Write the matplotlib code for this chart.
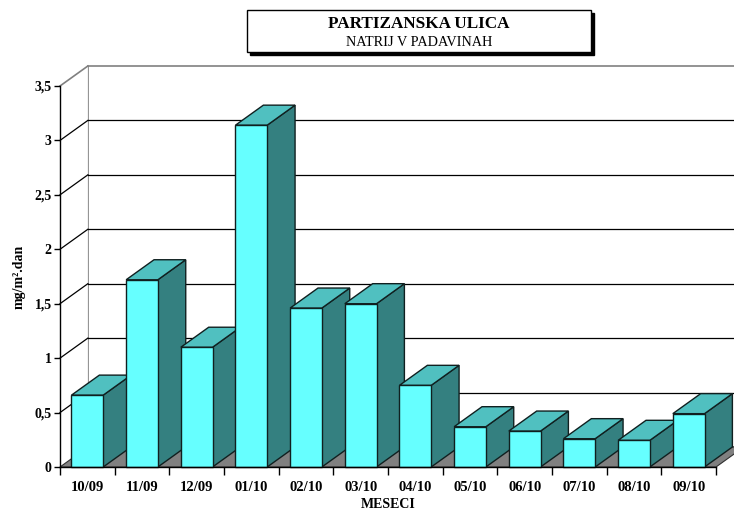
import matplotlib.pyplot as plt
from matplotlib.patches import Polygon, Rectangle

# --- DATA ---
months = ["10/09", "11/09", "12/09", "01/10", "02/10", "03/10",
          "04/10", "05/10", "06/10", "07/10", "08/10", "09/10"]
natrij = [0.66, 1.72, 1.10, 3.14, 1.46, 1.50, 0.75, 0.37, 0.33, 0.26, 0.245, 0.49]
y_ticks = [0, 0.5, 1, 1.5, 2, 2.5, 3, 3.5]
y_tick_labels = ["0", "0,5", "1", "1,5", "2", "2,5", "3", "3,5"]

# --- STYLE ---
FRONT = "#66FFFF"
TOP = "#50C0C0"
SIDE = "#348080"
EDGE = "#102020"
FLOOR = "#808080"
DX, DY = 0.51, 0.184   # depth offset (data units)
BAR_W = 0.58
SERIF = "Liberation Serif"

W, H = 734, 511
fig = plt.figure(figsize=(W / 100, H / 100), dpi=100)
ax = fig.add_axes([60 / W, 44 / H, 656 / W, 381 / H])
n = len(months)
ymax = y_ticks[-1]
ax.set_xlim(0, n)
ax.set_ylim(0, ymax)
ax.patch.set_visible(False)

# back wall
ax.add_patch(Polygon([(DX, DY), (n + DX, DY), (n + DX, ymax + DY), (DX, ymax + DY)],
                     closed=True, facecolor="white", edgecolor="#808080", lw=1.2,
                     clip_on=False, zorder=0))
# left wall
ax.add_patch(Polygon([(0, 0), (DX, DY), (DX, ymax + DY), (0, ymax)],
                     closed=True, facecolor="white", edgecolor="none",
                     clip_on=False, zorder=0))
for v in y_ticks[1:-1]:
    ax.plot([DX, n + DX], [v + DY, v + DY], color="black", lw=0.9, clip_on=False, zorder=1)
    ax.plot([0, DX], [v, v + DY], color="black", lw=0.9, clip_on=False, zorder=1)
ax.plot([0, DX], [ymax, ymax + DY], color="#808080", lw=1.2, clip_on=False, zorder=1)

# floor
ax.add_patch(Polygon([(0, 0), (n, 0), (n + DX, DY), (DX, DY)], closed=True,
                     facecolor=FLOOR, edgecolor="#303030", lw=0.8,
                     clip_on=False, zorder=1.5))

# bars
for i, v in enumerate(natrij):
    l = i + (1 - BAR_W) / 2
    r = l + BAR_W
    z = 3 + i * 0.01
    ax.add_patch(Polygon([(r, 0), (r + DX, DY), (r + DX, v + DY), (r, v)], closed=True,
                         facecolor=SIDE, edgecolor=EDGE, lw=1, clip_on=False, zorder=z))
    ax.add_patch(Polygon([(l, v), (r, v), (r + DX, v + DY), (l + DX, v + DY)], closed=True,
                         facecolor=TOP, edgecolor=EDGE, lw=1, clip_on=False, zorder=z))
    ax.add_patch(Polygon([(l, 0), (r, 0), (r, v), (l, v)], closed=True,
                         facecolor=FRONT, edgecolor=EDGE, lw=1, clip_on=False, zorder=z))

# axes
for s in ["top", "right"]:
    ax.spines[s].set_visible(False)
for s in ["left", "bottom"]:
    ax.spines[s].set_color("black")
    ax.spines[s].set_linewidth(1)
    ax.spines[s].set_zorder(5)
ax.set_yticks(y_ticks)
ax.set_yticklabels(y_tick_labels, fontfamily=SERIF, fontweight="bold", fontsize=10)
ax.tick_params(axis="y", direction="out", length=4, width=1, pad=2)
ax.set_xticks([i + 0.5 for i in range(n)])
ax.set_xticklabels(months, fontfamily=SERIF, fontweight="bold", fontsize=10.5)
ax.set_xticks(range(n + 1), minor=True)
ax.tick_params(axis="x", which="major", length=0, pad=10)
ax.tick_params(axis="x", which="minor", direction="out", length=6, width=1)

ax.set_xlabel("MESECI", fontfamily=SERIF, fontweight="bold", fontsize=10, labelpad=3)
ax.set_ylabel("mg/m².dan", fontfamily=SERIF, fontweight="bold", fontsize=10, labelpad=6)

# title box with shadow
bx, by, bw, bh = 247 / W, (H - 52) / H, 344 / W, 42 / H
fig.patches.append(Rectangle((bx + 3 / W, by - 3 / H), bw, bh, transform=fig.transFigure,
                             facecolor="black", edgecolor="black", zorder=1))
fig.patches.append(Rectangle((bx, by), bw, bh, transform=fig.transFigure,
                             facecolor="white", edgecolor="black", lw=1, zorder=2))
fig.text(bx + bw / 2, (H - 24) / H, "PARTIZANSKA ULICA", ha="center", va="center",
         fontfamily=SERIF, fontweight="bold", fontsize=12.3, zorder=3)
fig.text(bx + bw / 2, (H - 42) / H, "NATRIJ V PADAVINAH", ha="center", va="center",
         fontfamily=SERIF, fontsize=10.3, zorder=3)

fig.savefig("out.png", dpi=100)
